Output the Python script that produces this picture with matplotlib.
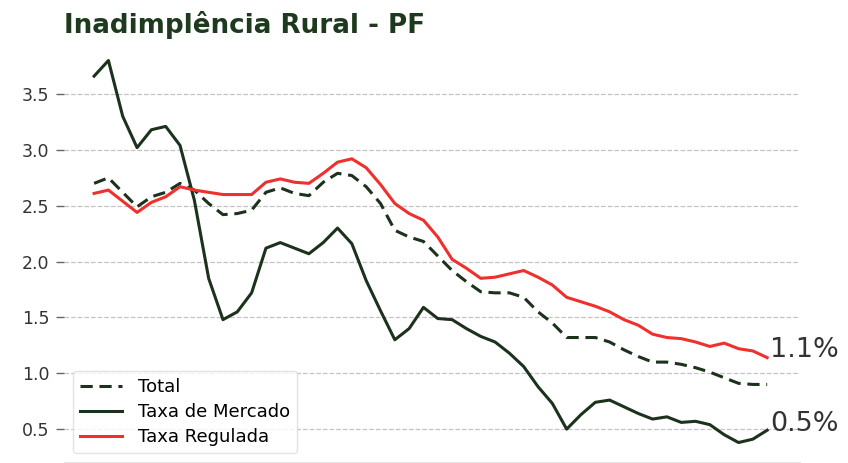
import matplotlib.pyplot as plt

# inadimplência rural PF, série trimestral (%)
total = [2.70, 2.75, 2.62, 2.49, 2.58, 2.62, 2.70, 2.64, 2.52, 2.42,
         2.43, 2.46, 2.62, 2.66, 2.61, 2.59, 2.71, 2.79, 2.77, 2.67,
         2.52, 2.28, 2.22, 2.18, 2.05, 1.92, 1.82, 1.73, 1.72, 1.72,
         1.68, 1.55, 1.45, 1.32, 1.32, 1.32, 1.28, 1.21, 1.15, 1.10,
         1.10, 1.08, 1.05, 1.01, 0.96, 0.91, 0.90, 0.90]
mercado = [3.66, 3.80, 3.30, 3.02, 3.18, 3.21, 3.04, 2.55, 1.85, 1.48,
           1.55, 1.72, 2.12, 2.17, 2.12, 2.07, 2.17, 2.30, 2.16, 1.83,
           1.56, 1.30, 1.40, 1.59, 1.49, 1.48, 1.40, 1.33, 1.28, 1.18,
           1.06, 0.88, 0.73, 0.50, 0.63, 0.74, 0.76, 0.70, 0.64, 0.59,
           0.61, 0.56, 0.57, 0.54, 0.45, 0.38, 0.41, 0.49]
regulada = [2.61, 2.64, 2.54, 2.44, 2.53, 2.58, 2.67, 2.64, 2.62, 2.60,
            2.60, 2.60, 2.71, 2.74, 2.71, 2.70, 2.79, 2.89, 2.92, 2.84,
            2.69, 2.52, 2.43, 2.37, 2.22, 2.02, 1.94, 1.85, 1.86, 1.89,
            1.92, 1.86, 1.79, 1.68, 1.64, 1.60, 1.55, 1.48, 1.43, 1.35,
            1.32, 1.31, 1.28, 1.24, 1.27, 1.22, 1.20, 1.14]
periodos = list(range(len(total)))

verde = '#1c321c'
vermelho = '#f0302c'

fig = plt.figure(figsize=(8.48, 4.63), dpi=100)
ax = fig.add_axes([0.0755, 0.002, 0.868, 0.890])

ax.plot(periodos, total, color=verde, lw=2.2, ls=(0, (4, 2.2)), label='Total')
ax.plot(periodos, mercado, color=verde, lw=2.2, label='Taxa de Mercado')
ax.plot(periodos, regulada, color=vermelho, lw=2.2, label='Taxa Regulada')

# valor final de cada taxa ao lado da linha
ax.text(periodos[-1] + 0.2, regulada[-1] + 0.07, f'{regulada[-1]:.1f}%',
        fontsize=19.5, color='#333333', va='center', ha='left')
ax.text(periodos[-1] + 0.2, mercado[-1] + 0.06, f'{mercado[-1]:.1f}%',
        fontsize=19.5, color='#333333', va='center', ha='left')

ax.set_xlim(-2.1, 49.3)
ax.set_ylim(0.205, 3.894)
ax.set_yticks([0.5, 1.0, 1.5, 2.0, 2.5, 3.0, 3.5])
ax.set_xticks([])
ax.tick_params(axis='y', labelsize=12.5, colors='#333333', length=5.5, width=1,
               pad=5, color='#666666')
ax.grid(axis='y', ls='--', color='#c4c4c4', lw=0.9)
for s in ['top', 'right', 'left']:
    ax.spines[s].set_visible(False)
ax.spines['bottom'].set_color('#e6e6e6')

ax.legend(loc='lower left', bbox_to_anchor=(0.0, 0.0), fontsize=13,
          frameon=True, edgecolor='#dddddd', fancybox=True, handlelength=2.3,
          borderpad=0.4, labelspacing=0.38, handletextpad=0.9)

fig.text(0.075, 0.945, 'Inadimplência Rural - PF', fontsize=18.8, fontweight='bold',
         color='#1e3a1e', va='center', ha='left')

plt.savefig('out.png', dpi=100)
